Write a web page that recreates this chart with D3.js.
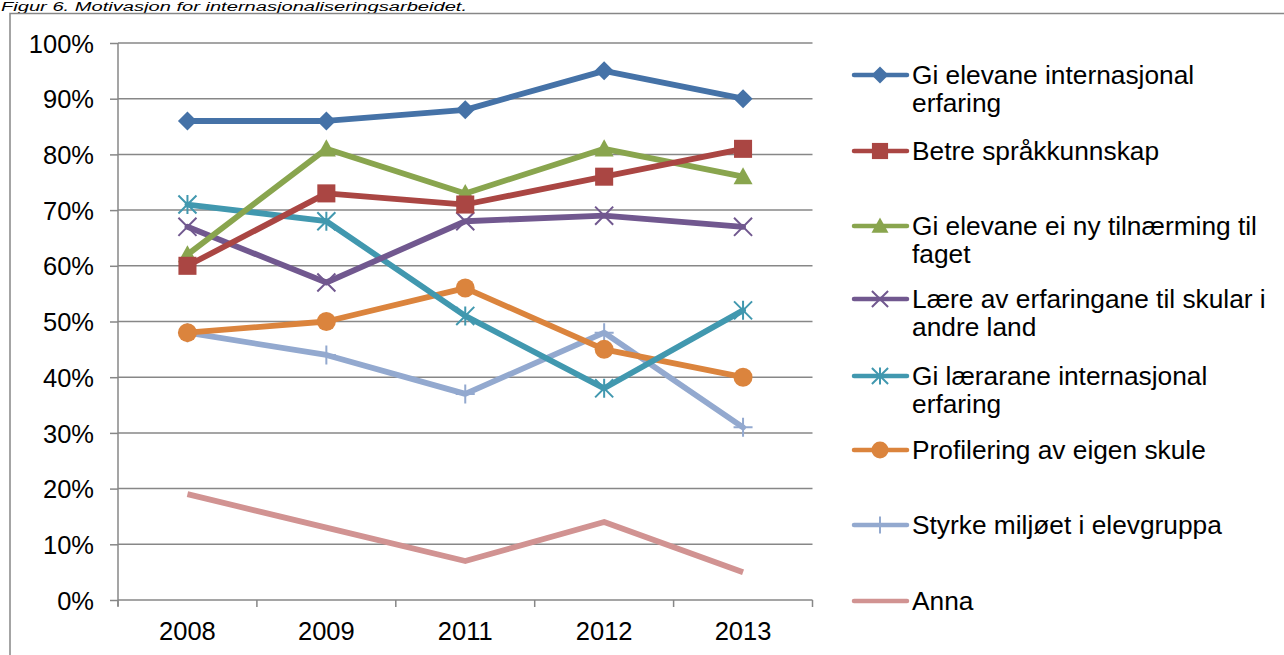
<!DOCTYPE html>
<html><head><meta charset="utf-8">
<script src="https://cdn.jsdelivr.net/npm/d3@7"></script>
<style>
body{margin:0;background:#fff;}
svg{display:block;font-family:"Liberation Sans",Arial,sans-serif;}
</style></head>
<body>
<svg id="c" width="1284" height="655"></svg>
<script>
const years = ["2008","2009","2011","2012","2013"];
const seriesNames = [
  "Gi elevane internasjonal erfaring",
  "Betre språkkunnskap",
  "Gi elevane ei ny tilnærming til faget",
  "Lære av erfaringane til skular i andre land",
  "Gi lærarane internasjonal erfaring",
  "Profilering av eigen skule",
  "Styrke miljøet i elevgruppa",
  "Anna"
];
const giElevaneErfaring = [86, 86, 88, 95, 90];
const betreSprak       = [60, 73, 71, 76, 81];
const nyTilnaerming    = [62, 81, 73, 81, 76];
const laereAv          = [67, 57, 68, 69, 67];
const giLaerarane      = [71, 68, 51, 38, 52];
const profilering      = [48, 50, 56, 45, 40];
const styrkeMiljo      = [48, 44, 37, 48, 31];
const anna             = [19, 13, 7, 14, 5];
const yTicks = [0,10,20,30,40,50,60,70,80,90,100];
const legendLines = [
  ["Gi elevane internasjonal","erfaring"],
  ["Betre språkkunnskap"],
  ["Gi elevane ei ny tilnærming til","faget"],
  ["Lære av erfaringane til skular i","andre land"],
  ["Gi lærarane internasjonal","erfaring"],
  ["Profilering av eigen skule"],
  ["Styrke miljøet i elevgruppa"],
  ["Anna"]
];
const titleText = "Figur 6. Motivasjon for internasjonaliseringsarbeidet.";

const allValues = [giElevaneErfaring, betreSprak, nyTilnaerming, laereAv, giLaerarane, profilering, styrkeMiljo, anna];
const colors = ["#4572A7","#AA4643","#89A54E","#71588F","#4198AF","#DB843D","#93A9CF","#D19392"];
const markers = ["diamond","square","triangle","x","star","circle","plus","none"];

const svg = d3.select("#c");
const gridColor = "#878787";

// title
svg.append("text").attr("x",1).attr("y",11.2).attr("font-size",12).attr("font-style","italic")
  .attr("textLength",466).attr("lengthAdjust","spacingAndGlyphs")
  .attr("fill","#000").text(titleText);

// frame
svg.append("rect").attr("x",10).attr("y",13.5).attr("width",1300).attr("height",700)
  .attr("fill","none").attr("stroke",gridColor).attr("stroke-width",1.5);

const x = d3.scaleBand().domain(years).range([118,812.5]);
const y = d3.scaleLinear().domain([0,100]).range([600,43]);

// gridlines
svg.append("g").selectAll("line").data(yTicks.filter(d=>d>0)).join("line")
  .attr("x1",118).attr("x2",812.5).attr("y1",d=>y(d)).attr("y2",d=>y(d))
  .attr("stroke",gridColor).attr("stroke-width",1.5);

// y axis
const yAxis = d3.axisLeft(y).tickValues(yTicks).tickFormat(d=>d+"%").tickSize(8).tickPadding(16);
const gy = svg.append("g").attr("transform","translate(118,0)").call(yAxis);
gy.select(".domain").attr("stroke",gridColor).attr("stroke-width",1.5).attr("d","M0,43V606");
gy.selectAll(".tick line").attr("stroke",gridColor).attr("stroke-width",1.5);
gy.selectAll(".tick text").attr("font-size",25.5).attr("fill","#000")
  .attr("font-family","'Liberation Sans',Arial,sans-serif").attr("dy","0.36em");

// x axis
const gx = svg.append("g").attr("transform","translate(0,600)");
gx.append("line").attr("x1",118).attr("x2",812.5).attr("y1",0).attr("y2",0)
  .attr("stroke",gridColor).attr("stroke-width",1.5);
const bounds = years.map(d=>x(d)).concat([x(years[years.length-1])+x.bandwidth()]);
gx.selectAll("line.tk").data(bounds).join("line").attr("class","tk")
  .attr("x1",d=>d).attr("x2",d=>d).attr("y1",0).attr("y2",7)
  .attr("stroke",gridColor).attr("stroke-width",1.5);
gx.selectAll("text").data(years).join("text")
  .attr("x",d=>x(d)+x.bandwidth()/2).attr("y",40).attr("text-anchor","middle")
  .attr("font-size",25.5).attr("fill","#000").text(d=>d);

function drawMarker(g, type, color, cx, cy, s) {
  const r = s/2;
  if (type==="diamond") {
    g.append("path").attr("d",`M${cx},${cy-r}L${cx+r},${cy}L${cx},${cy+r}L${cx-r},${cy}Z`).attr("fill",color);
  } else if (type==="square") {
    const h = r*0.95;
    g.append("rect").attr("x",cx-h).attr("y",cy-h).attr("width",2*h).attr("height",2*h).attr("fill",color);
  } else if (type==="triangle") {
    g.append("path").attr("d",`M${cx},${cy-r}L${cx+r},${cy+r*0.8}L${cx-r},${cy+r*0.8}Z`).attr("fill",color);
  } else if (type==="circle") {
    g.append("circle").attr("cx",cx).attr("cy",cy).attr("r",r).attr("fill",color);
  } else if (type==="x") {
    const h=r*0.95;
    g.append("path").attr("d",`M${cx-h},${cy-h}L${cx+h},${cy+h}M${cx-h},${cy+h}L${cx+h},${cy-h}`)
      .attr("stroke",color).attr("stroke-width",2);
  } else if (type==="star") {
    const h=r*0.95;
    g.append("path").attr("d",`M${cx-h},${cy-h}L${cx+h},${cy+h}M${cx-h},${cy+h}L${cx+h},${cy-h}M${cx},${cy-r}L${cx},${cy+r}`)
      .attr("stroke",color).attr("stroke-width",2);
  } else if (type==="plus") {
    g.append("path").attr("d",`M${cx-r},${cy}L${cx+r},${cy}M${cx},${cy-r}L${cx},${cy+r}`)
      .attr("stroke",color).attr("stroke-width",2);
  }
}

// series
const line = d3.line().x((d,i)=>x(years[i])+x.bandwidth()/2).y(d=>y(d));
const order = [7,6,5,4,3,2,1,0];
order.forEach(si=>{
  const g = svg.append("g");
  g.append("path").datum(allValues[si]).attr("d",line).attr("fill","none")
    .attr("stroke",colors[si]).attr("stroke-width",5.8).attr("stroke-linejoin","round")
    .attr("stroke-linecap", si===7 ? "butt" : "round");
  allValues[si].forEach((v,i)=>{
    drawMarker(g, markers[si], colors[si], x(years[i])+x.bandwidth()/2, y(v), 19);
  });
});

// legend
const legendY = [75,151,226,299,376,450,525,601];
const lg = svg.append("g");
legendLines.forEach((lines,i)=>{
  const ly = legendY[i];
  lg.append("line").attr("x1",854).attr("x2",907).attr("y1",ly).attr("y2",ly)
    .attr("stroke",colors[i]).attr("stroke-width",4.5).attr("stroke-linecap","round");
  drawMarker(lg, markers[i], colors[i], 880, ly, 17);
  const t = lg.append("text").attr("x",912).attr("y",ly).attr("font-size",26.3).attr("fill","#000");
  lines.forEach((s,j)=>{
    t.append("tspan").attr("x",912).attr("dy", j===0 ? "0.36em" : 28).text(s);
  });
});
</script>
</body></html>
